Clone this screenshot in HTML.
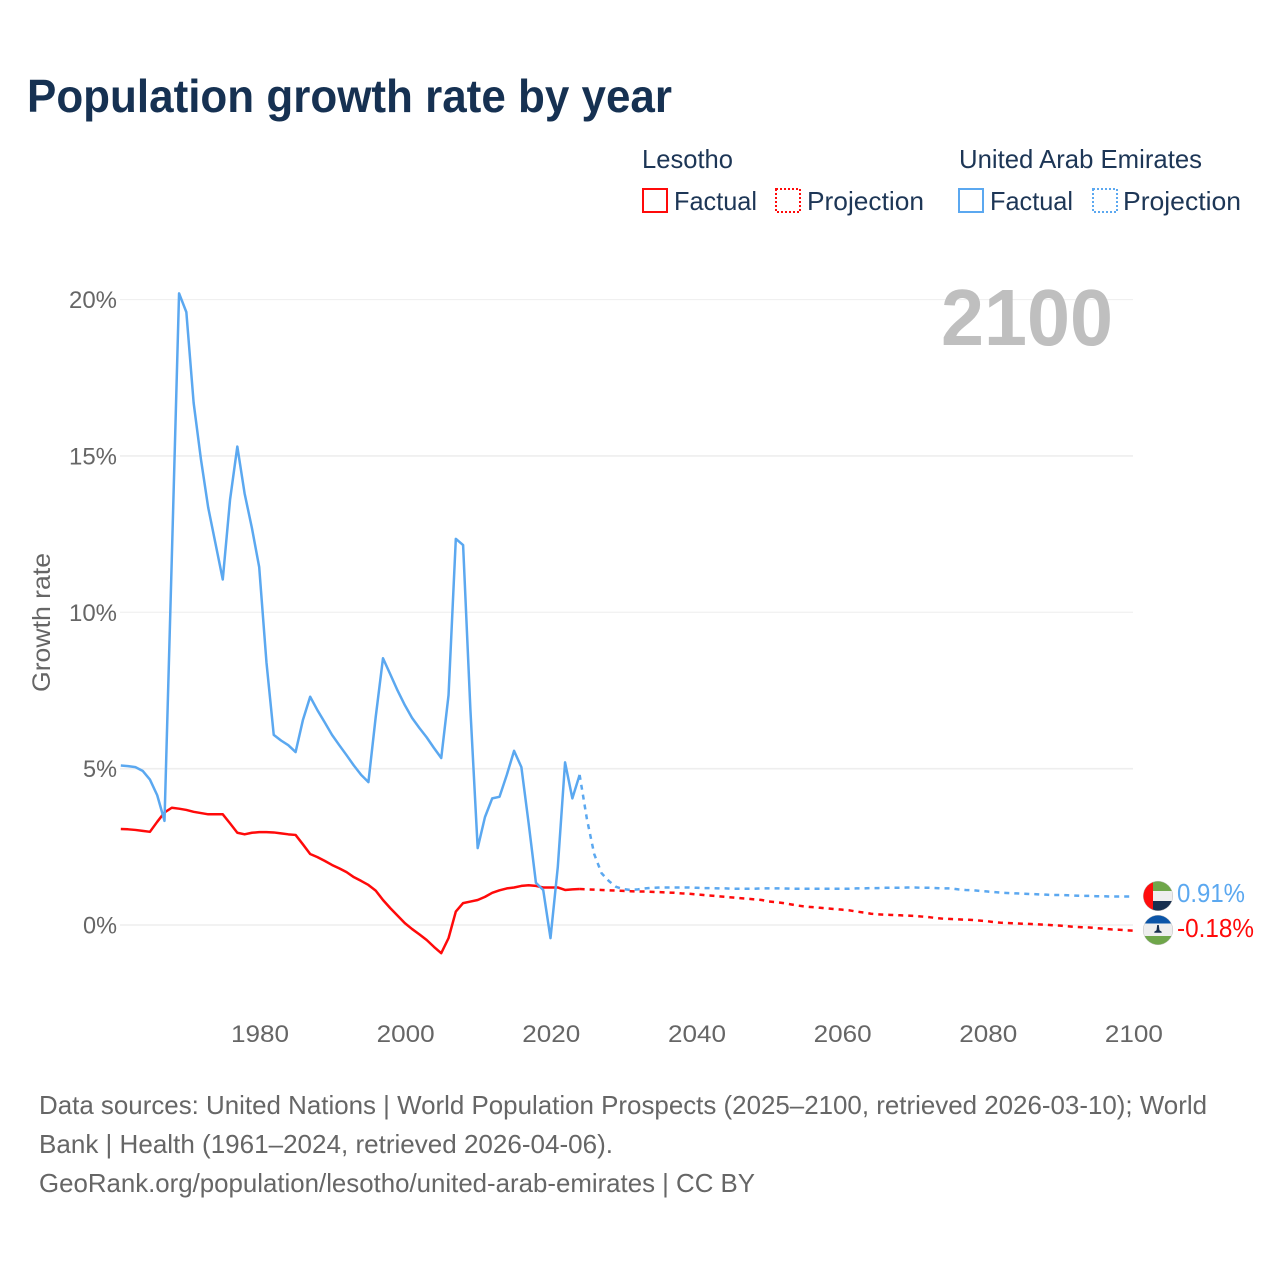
<!DOCTYPE html>
<html lang="en">
<head>
<meta charset="utf-8">
<title>Population growth rate by year</title>
<style>
html,body{margin:0;padding:0;background:#fff;}
svg{display:block;font-family:"Liberation Sans",sans-serif;}
</style>
</head>
<body>
<svg id="chart" xmlns="http://www.w3.org/2000/svg" width="1280" height="1280" viewBox="0 0 1280 1280">
  <rect width="1280" height="1280" fill="#fff"/>
  <text x="27" y="112" font-size="46" font-weight="700" fill="#163152" textLength="645" lengthAdjust="spacingAndGlyphs">Population growth rate by year</text>

  <g font-size="26" fill="#1d3656">
    <text x="642" y="168" textLength="91" lengthAdjust="spacingAndGlyphs">Lesotho</text>
    <rect x="643" y="189" width="24" height="23" fill="none" stroke="#ff0a0a" stroke-width="2"/>
    <text x="674" y="210" textLength="83" lengthAdjust="spacingAndGlyphs">Factual</text>
    <rect x="776" y="189" width="24" height="23" fill="none" stroke="#ff0a0a" stroke-width="2" stroke-dasharray="2 2"/>
    <text x="807" y="210" textLength="117" lengthAdjust="spacingAndGlyphs">Projection</text>
    <text x="959" y="168" textLength="243" lengthAdjust="spacingAndGlyphs">United Arab Emirates</text>
    <rect x="959" y="189" width="24" height="23" fill="none" stroke="#5ba8f0" stroke-width="2"/>
    <text x="990" y="210" textLength="83" lengthAdjust="spacingAndGlyphs">Factual</text>
    <rect x="1093" y="189" width="24" height="23" fill="none" stroke="#5ba8f0" stroke-width="2" stroke-dasharray="2 2"/>
    <text x="1123" y="210" textLength="118" lengthAdjust="spacingAndGlyphs">Projection</text>
  </g>

  <g id="grid"></g>
  <g id="yticks"></g>
  <g id="xticks"></g>
  <text transform="translate(50,622.5) rotate(-90)" text-anchor="middle" font-size="25" fill="#666" textLength="139" lengthAdjust="spacingAndGlyphs">Growth rate</text>
  <text id="yearMark" x="1113" y="345" text-anchor="end" font-size="80" font-weight="700" fill="#bfbfbf" textLength="172" lengthAdjust="spacingAndGlyphs">2100</text>
  <g id="series"></g>

  <defs>
    <clipPath id="clipUae"><circle cx="1158" cy="896" r="14.7"/></clipPath>
    <clipPath id="clipLso"><circle cx="1158" cy="930" r="14.7"/></clipPath>
  </defs>
  <g clip-path="url(#clipUae)">
    <rect x="1143" y="881" width="30" height="10" fill="#6fa64a"/>
    <rect x="1143" y="891" width="30" height="10" fill="#eeeeee"/>
    <rect x="1143" y="901" width="30" height="11" fill="#172f50"/>
    <rect x="1143" y="881" width="10" height="31" fill="#ff0d0d"/>
  </g>
  <g clip-path="url(#clipLso)">
    <rect x="1143" y="915" width="30" height="8.5" fill="#0b55a8"/>
    <rect x="1143" y="923.5" width="30" height="12.5" fill="#eeeeee"/>
    <rect x="1143" y="936" width="30" height="10" fill="#6fa64a"/>
    <path d="M1157.2 925h1.6l.7 5.2 2.2 1.6v.9h-7.4v-.9l2.2-1.6z" fill="#172f50"/>
  </g>
  <circle cx="1158" cy="896" r="14.8" fill="none" stroke="#bbb" stroke-width="0.5"/>
  <circle cx="1158" cy="930" r="14.8" fill="none" stroke="#bbb" stroke-width="0.5"/>

  <text x="1177" y="902" font-size="25.5" fill="#5ba8f0" textLength="68" lengthAdjust="spacingAndGlyphs">0.91%</text>
  <text x="1177" y="937" font-size="25.5" fill="#ff0a0a" textLength="77" lengthAdjust="spacingAndGlyphs">-0.18%</text>

  <g font-size="26" fill="#666">
    <text x="39" y="1114" textLength="1168" lengthAdjust="spacingAndGlyphs">Data sources: United Nations | World Population Prospects (2025–2100, retrieved 2026-03-10); World</text>
    <text x="39" y="1153" textLength="574" lengthAdjust="spacingAndGlyphs">Bank | Health (1961–2024, retrieved 2026-04-06).</text>
    <text x="39" y="1192" textLength="716" lengthAdjust="spacingAndGlyphs">GeoRank.org/population/lesotho/united-arab-emirates | CC BY</text>
  </g>
</svg>
<script>
const yTicks = [0, 5, 10, 15, 20];
const xTicks = [1980, 2000, 2020, 2040, 2060, 2080, 2100];
const factualStartYear = 1961;
const projectionStartYear = 2024;
const uaeFactual = [5.1,5.08,5.05,4.93,4.65,4.15,3.33,11.7,20.2,19.6,16.7,14.9,13.35,12.2,11.05,13.6,15.3,13.8,12.7,11.45,8.4,6.08,5.9,5.75,5.53,6.55,7.3,6.87,6.48,6.08,5.75,5.43,5.1,4.8,4.57,6.65,8.53,8.02,7.5,7.03,6.62,6.3,6,5.66,5.34,7.35,12.35,12.15,6.9,2.46,3.45,4.05,4.1,4.8,5.57,5.05,3.25,1.35,1.12,-0.42,1.85,5.2,4.05,4.8];
const lesothoFactual = [3.07,3.06,3.04,3.01,2.98,3.3,3.6,3.75,3.72,3.68,3.62,3.58,3.54,3.54,3.54,3.25,2.95,2.9,2.95,2.97,2.97,2.96,2.93,2.9,2.88,2.58,2.27,2.17,2.05,1.92,1.81,1.69,1.53,1.41,1.28,1.1,0.8,0.54,0.3,0.06,-0.13,-0.3,-0.48,-0.7,-0.9,-0.42,0.43,0.7,0.75,0.8,0.9,1.03,1.11,1.17,1.2,1.25,1.27,1.25,1.2,1.2,1.2,1.12,1.14,1.15];
const uaeProjection = [4.8,3.39,2.27,1.66,1.41,1.22,1.15,1.12,1.14,1.17,1.19,1.2,1.2,1.2,1.2,1.2,1.19,1.18,1.18,1.17,1.17,1.16,1.16,1.16,1.16,1.17,1.17,1.17,1.17,1.16,1.16,1.16,1.16,1.16,1.16,1.16,1.16,1.16,1.17,1.17,1.18,1.18,1.19,1.19,1.19,1.2,1.2,1.19,1.19,1.18,1.17,1.17,1.14,1.12,1.11,1.09,1.07,1.05,1.03,1.02,1.01,1.0,0.99,0.98,0.97,0.96,0.96,0.95,0.94,0.93,0.93,0.92,0.92,0.91,0.91,0.91,0.91];
const lesothoProjection = [1.15,1.14,1.13,1.12,1.11,1.1,1.09,1.08,1.07,1.07,1.06,1.05,1.04,1.03,1.01,1.0,0.98,0.96,0.94,0.92,0.9,0.88,0.86,0.84,0.82,0.8,0.75,0.73,0.7,0.66,0.62,0.59,0.57,0.55,0.53,0.51,0.49,0.47,0.43,0.4,0.36,0.34,0.33,0.32,0.31,0.3,0.29,0.27,0.25,0.22,0.2,0.19,0.18,0.17,0.16,0.14,0.12,0.09,0.07,0.06,0.05,0.04,0.03,0.02,0.01,-0.01,-0.02,-0.04,-0.06,-0.07,-0.08,-0.1,-0.12,-0.14,-0.15,-0.17,-0.18];

const NS = 'http://www.w3.org/2000/svg';
function xScale(year) { return 120.8 + (year - 1961) * 7.283; }
function yScale(pct) { return 925 - pct * 31.27; }
function linePath(values, startYear) {
  return values.map(function (v, i) {
    return (i ? 'L' : 'M') + xScale(startYear + i).toFixed(2) + ' ' + yScale(v).toFixed(2);
  }).join('');
}
function drawLine(values, startYear, color, dash, name) {
  const p = document.createElementNS(NS, 'path');
  
  
  p.setAttribute('d', linePath(values, startYear));
  p.setAttribute('fill', 'none');
  p.setAttribute('stroke', color);
  p.setAttribute('stroke-width', '2.5');
  p.setAttribute('stroke-linejoin', 'round');
  if (dash) p.setAttribute('stroke-dasharray', dash);
  document.getElementById('series').appendChild(p);
}
yTicks.forEach(function (t) {
  const g = document.createElementNS(NS, 'line');
  
  
  g.setAttribute('x1', '120');
  g.setAttribute('x2', '1133');
  g.setAttribute('y1', yScale(t));
  g.setAttribute('y2', yScale(t));
  g.setAttribute('stroke', '#eeeeee');
  g.setAttribute('stroke-width', t % 10 === 0 && t > 0 ? '1' : '1.6');
  document.getElementById('grid').appendChild(g);
  const l = document.createElementNS(NS, 'text');
  
  
  l.setAttribute('x', '117');
  l.setAttribute('y', yScale(t) + 8.5);
  l.setAttribute('text-anchor', 'end');
  l.setAttribute('font-size', '24.5');
  l.setAttribute('fill', '#666');
  l.setAttribute('textLength', t >= 10 ? '48' : '34');
  l.setAttribute('lengthAdjust', 'spacingAndGlyphs');
  l.textContent = t + '%';
  document.getElementById('yticks').appendChild(l);
});
xTicks.forEach(function (t) {
  const l = document.createElementNS(NS, 'text');
  
  
  l.setAttribute('x', xScale(t) + 0.8);
  l.setAttribute('y', '1042');
  l.setAttribute('text-anchor', 'middle');
  l.setAttribute('font-size', '24.5');
  l.setAttribute('fill', '#666');
  l.setAttribute('textLength', '58');
  l.setAttribute('lengthAdjust', 'spacingAndGlyphs');
  l.textContent = t;
  document.getElementById('xticks').appendChild(l);
});
drawLine(lesothoProjection, projectionStartYear, '#ff0a0a', '5 5', 'lesotho-projection-line');
drawLine(lesothoFactual, factualStartYear, '#ff0a0a', null, 'lesotho-factual-line');
drawLine(uaeProjection, projectionStartYear, '#5ba8f0', '5 5', 'uae-projection-line');
drawLine(uaeFactual, factualStartYear, '#5ba8f0', null, 'uae-factual-line');
</script>
</body>
</html>
